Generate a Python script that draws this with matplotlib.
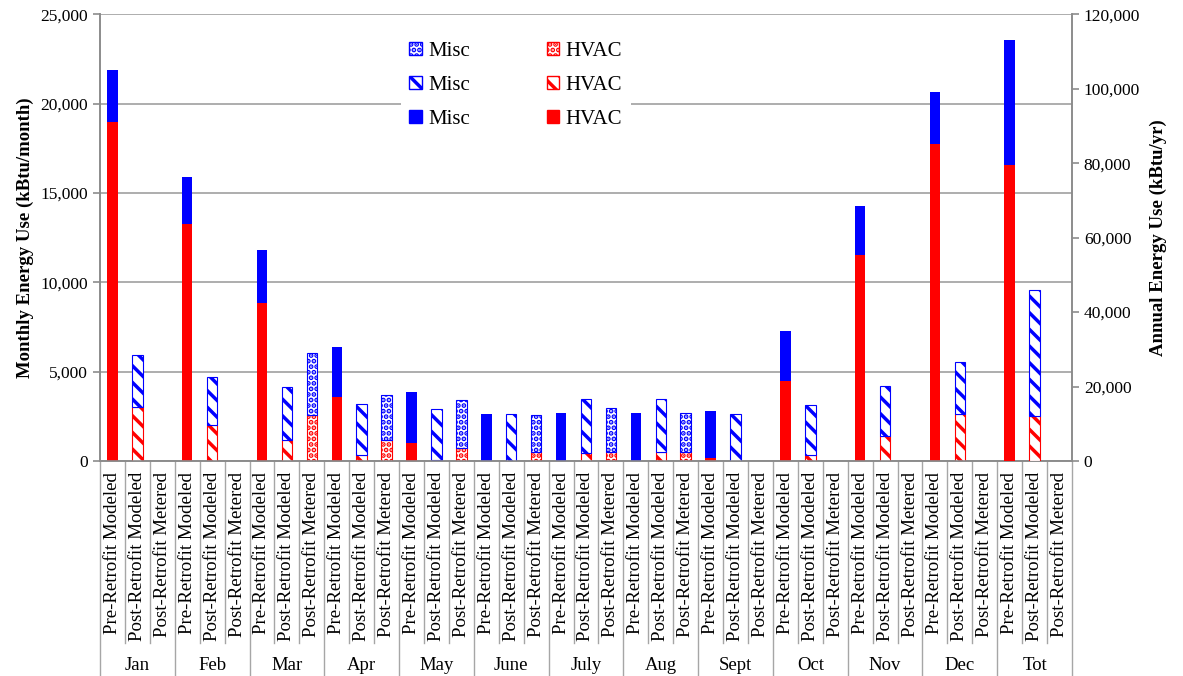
import numpy as np
import matplotlib.pyplot as plt
from matplotlib.patches import Patch
from matplotlib.ticker import FuncFormatter
import matplotlib.transforms as mtrans

plt.rcParams['font.family'] = ['Liberation Serif', 'DejaVu Serif']
plt.rcParams['hatch.linewidth'] = 2.5

months = ['Jan', 'Feb', 'Mar', 'Apr', 'May', 'June', 'July', 'Aug', 'Sept', 'Oct', 'Nov', 'Dec']
scenarios = ['Pre-Retrofit Modeled', 'Post-Retrofit Modeled', 'Post-Retrofit Metered']

# monthly totals (kBtu/month): total bar height and HVAC part
pre_total = [21900, 15900, 11800, 6400, 3850, 2650, 2700, 2700, 2800, 7250, 14250, 20650]
pre_hvac = [18950, 13250, 8850, 3600, 1000, 0, 0, 0, 170, 4500, 11500, 17750]
post_total = [5950, 4700, 4150, 3200, 2900, 2650, 3450, 3450, 2650, 3150, 4200, 5550]
post_hvac = [3000, 2000, 1150, 350, 40, 0, 450, 500, 0, 350, 1400, 2650]
met_total = [0, 0, 6050, 3700, 3400, 2550, 2950, 2700, 0, 0, 0, 0]
met_hvac = [0, 0, 2600, 1200, 750, 500, 500, 500, 0, 0, 0, 0]

# annual totals (kBtu/yr) on right axis
tot_total = [113000, 46000, 0]
tot_hvac = [79500, 12000, 0]

RED = '#ff0000'
BLUE = '#0000ff'
W = 0.42

fig = plt.figure(figsize=(11.83, 6.76), dpi=100)
ax = fig.add_axes([0.0845, 0.318, 0.8217, 0.661])
ax2 = ax.twinx()

styles = [None, '\\\\', '...']


def draw(axis, x, total, hvac, hatch):
    misc = total - hvac
    if total <= 0:
        return
    if hatch is None:
        axis.bar(x, hvac, W, color=RED, linewidth=0, zorder=3)
        axis.bar(x, misc, W, bottom=hvac, color=BLUE, linewidth=0, zorder=3)
    else:
        if hvac > 0:
            axis.bar(x, hvac, W, facecolor='white', edgecolor=RED, hatch=hatch,
                     linewidth=0.8, zorder=3)
        axis.bar(x, misc, W, bottom=hvac, facecolor='white', edgecolor=BLUE,
                 hatch=hatch, linewidth=0.8, zorder=3)


series = [(pre_total, pre_hvac), (post_total, post_hvac), (met_total, met_hvac)]
for g in range(12):
    for k in range(3):
        t, h = series[k]
        draw(ax, g * 3 + k, t[g], h[g], styles[k])
for k in range(3):
    draw(ax2, 36 + k, tot_total[k], tot_hvac[k], styles[k])

ax.set_xlim(-0.5, 38.5)
ax.set_ylim(0, 25000)
ax2.set_ylim(0, 120000)
ax.set_yticks(np.arange(0, 25001, 5000))
ax2.set_yticks(np.arange(0, 120001, 20000))
fmt = FuncFormatter(lambda v, p: f'{int(v):,}')
ax.yaxis.set_major_formatter(fmt)
ax2.yaxis.set_major_formatter(fmt)
ax.yaxis.grid(True, color='#a0a0a0', linewidth=1.2, zorder=0)
ax.set_axisbelow(True)
ax.set_xticks([])
ax2.set_xticks([])

for a in (ax, ax2):
    for s in a.spines.values():
        s.set_color('#8c8c8c')
        s.set_linewidth(1.2)
    a.spines['top'].set_visible(False)
    a.tick_params(axis='y', colors='#8c8c8c', labelcolor='black', labelsize=12.5,
                  length=5, width=1.2)

ax.set_ylabel('Monthly Energy Use (kBtu/month)', fontsize=13.5, fontweight='bold', labelpad=5)
ax2.set_ylabel('Annual Energy Use (kBtu/yr)', fontsize=13.5, fontweight='bold', labelpad=7)

# two-level category axis
tr = mtrans.blended_transform_factory(ax.transData, ax.transAxes)
groups = months + ['Tot']
for g, name in enumerate(groups):
    for k in range(3):
        x = g * 3 + k
        ax.text(x, -0.025, scenarios[k], rotation=90, ha='center', va='top',
                fontsize=13.6, transform=tr)
        if k > 0:
            ax.plot([x - 0.5, x - 0.5], [0, -0.407], color='#a6a6a6', lw=1,
                    transform=tr, clip_on=False)
    ax.plot([g * 3 - 0.5, g * 3 - 0.5], [0, -0.49], color='#a6a6a6', lw=1,
            transform=tr, clip_on=False)
    ax.text(g * 3 + 1, -0.458, name, ha='center', va='center', fontsize=13.5,
            transform=tr)
ax.plot([38.5, 38.5], [0, -0.49], color='#a6a6a6', lw=1, transform=tr, clip_on=False)

handles = [
    Patch(facecolor='white', edgecolor=BLUE, hatch='...', label='Misc'),
    Patch(facecolor='white', edgecolor=BLUE, hatch='\\\\', label='Misc'),
    Patch(facecolor=BLUE, edgecolor=BLUE, label='Misc'),
    Patch(facecolor='white', edgecolor=RED, hatch='...', label='HVAC'),
    Patch(facecolor='white', edgecolor=RED, hatch='\\\\', label='HVAC'),
    Patch(facecolor=RED, edgecolor=RED, label='HVAC'),
]
leg = ax2.legend(handles=handles, ncol=2, loc='center', bbox_to_anchor=(0.436, 0.874),
                 bbox_transform=fig.transFigure, fontsize=15, frameon=True,
                 facecolor='white', edgecolor='none', framealpha=1,
                 handlelength=0.6, handleheight=0.6, handletextpad=0.3,
                 labelspacing=0.72, columnspacing=3.7, borderpad=0.4)
leg.set_zorder(10)

fig.savefig('out.png', dpi=100)
